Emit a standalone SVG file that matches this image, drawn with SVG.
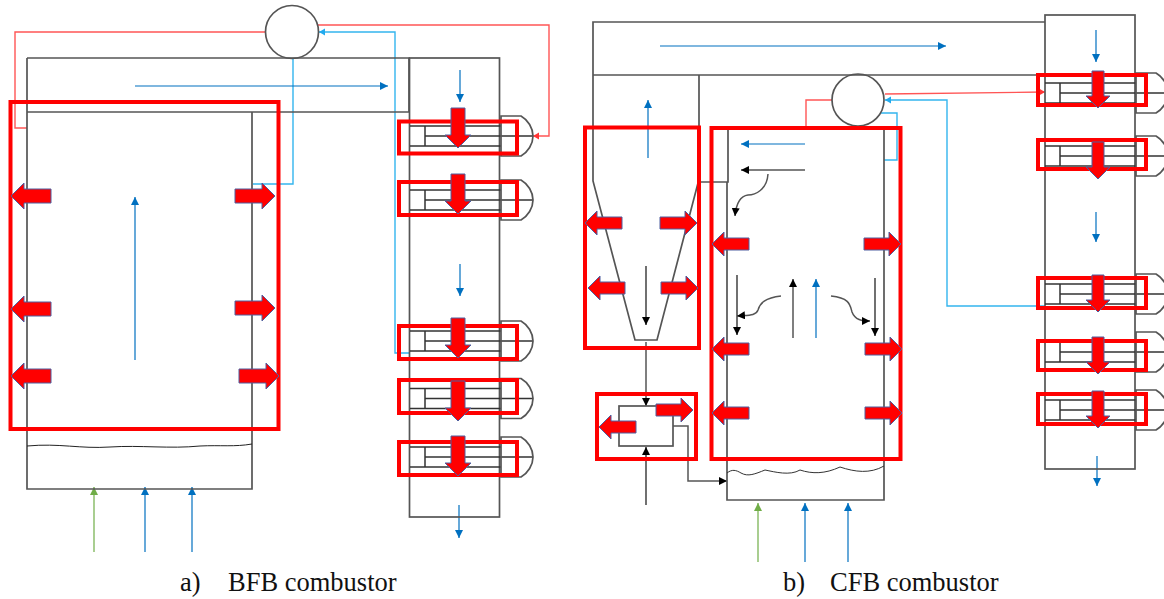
<svg xmlns="http://www.w3.org/2000/svg" width="1164" height="599" viewBox="0 0 1164 599">
<style>
.w{fill:none;stroke:#555;stroke-width:1.7}
.d{fill:none;stroke:#333;stroke-width:1.5}
.k{fill:none;stroke:#111;stroke-width:1.2;marker-end:url(#mk)}
.kg{fill:none;stroke:#555;stroke-width:1.5;marker-end:url(#mk)}
.b{fill:none;stroke:#0070c0;stroke-width:1.2;marker-end:url(#mb)}
.lb{fill:none;stroke:#33b5ee;stroke-width:1.4}
.lba{fill:none;stroke:#33b5ee;stroke-width:1.4;marker-end:url(#ml)}
.r{fill:none;stroke:#f55;stroke-width:1.4}
.ra{fill:none;stroke:#f55;stroke-width:1.4;marker-end:url(#mr)}
.g{fill:none;stroke:#70ad47;stroke-width:1.2;marker-end:url(#mg)}
.box{fill:none;stroke:#f00;stroke-width:4}
.ba{fill:#f00;stroke:#4f5f9f;stroke-width:1}
text{font-family:"Liberation Serif","Times New Roman",serif;font-size:26.500px;fill:#111}
</style>
<defs>
<marker id="mk" markerUnits="userSpaceOnUse" markerWidth="9" markerHeight="9" refX="8" refY="4" orient="auto"><path d="M0 0L8 4L0 8Z" fill="#000"/></marker>
<marker id="mb" markerUnits="userSpaceOnUse" markerWidth="9" markerHeight="9" refX="8" refY="4" orient="auto"><path d="M0 0L8 4L0 8Z" fill="#0070c0"/></marker>
<marker id="ml" markerUnits="userSpaceOnUse" markerWidth="9" markerHeight="9" refX="6" refY="3.500" orient="auto"><path d="M0 0L6 3.500L0 7Z" fill="#22aaee"/></marker>
<marker id="mr" markerUnits="userSpaceOnUse" markerWidth="9" markerHeight="9" refX="6" refY="3.500" orient="auto"><path d="M0 0L6 3.500L0 7Z" fill="#f33"/></marker>
<marker id="mg" markerUnits="userSpaceOnUse" markerWidth="9" markerHeight="9" refX="8" refY="4" orient="auto"><path d="M0 0L8 4L0 8Z" fill="#70ad47"/></marker>
<path id="al" class="ba" d="M0 0L13-13V-7H40V7H13V13Z"/>
<path id="as" class="ba" d="M0 0L12-12V-6H37V6H12V12Z"/>
<g id="hx">
<path class="d" d="M0-10H91M0 10H91M15-10V10M15 0H123"/>
<path class="w" d="M91-20H111C118-16 123-8 123 0C123 8 118 16 111 20H91Z"/>
</g>
</defs>

<g id="connectors">
<path class="r" d="M266 32H15V128H27"/>
<path class="ra" d="M318 25H549V136H533"/>
<path class="lba" d="M409 353H395V32H319"/>
<path class="lb" d="M293 58V184H253"/>
<path class="b" d="M135 86H388"/>
<path class="b" d="M135 360V197"/>
<path class="g" d="M94 552V487"/>
<path class="b" d="M145 552V487"/>
<path class="b" d="M192 552V487"/>
<path class="b" d="M460 70V102"/>
<path class="b" d="M460 264V296"/>
<path class="b" d="M459 505V538"/>

<path class="b" d="M660 46H946"/>
<path class="r" d="M832 100H806V127"/>
<path class="ra" d="M885 94L1045 92"/>
<path class="lba" d="M1045 306H947V100H885"/>
<path class="lb" d="M881 113H897V160H884"/>
<path class="b" d="M648 158V100"/>
<path class="k" d="M646 266V325"/>
<path class="kg" d="M646 342V406"/>
<path class="k" d="M646 505V447"/>
<path class="kg" d="M673 426H688V481H727"/>
<path class="b" d="M805 144H741"/>
<path class="kg" d="M805 170H741"/>
<path class="kg" d="M768 174C767 190 755 195 748 195C740 196 736 205 735 216"/>
<path class="k" d="M737 275V335"/>
<path class="kg" d="M781 296C765 298 760 303 758 310C756 316 748 315 737 316"/>
<path class="kg" d="M793 338V279"/>
<path class="b" d="M816 338V279"/>
<path class="kg" d="M831 296C850 298 850 305 852 312C855 320 862 321 870 321"/>
<path class="k" d="M875 278V336"/>
<path class="g" d="M758 562V503"/>
<path class="b" d="M805 562V503"/>
<path class="b" d="M848 562V503"/>
<path class="b" d="M1096 30V62"/>
<path class="b" d="M1096 212V242"/>
<path class="b" d="M1097 456V486"/>
</g>

<g id="bfb-furnace">
<path class="w" d="M27 58H409V112H27M27 58V489H252V112"/>
<path d="M27 446C60 443 80 449 110 447C140 445 170 449 200 446C220 445 235 447 252 444" fill="none" stroke="#222" stroke-width="1"/>
</g>
<g id="bfb-fan"><circle class="w" cx="292" cy="32" r="26.500" fill="#fff"/></g>
<g id="bfb-backpass">
<rect class="w" x="409.500" y="58" width="90" height="459"/>
<use href="#hx" x="410" y="136"/>
<use href="#hx" x="410" y="200"/>
<use href="#hx" x="410" y="341"/>
<use href="#hx" x="410" y="398.500"/>
<use href="#hx" x="410" y="457"/>
</g>

<g id="cfb-duct">
<path class="w" d="M593 75V22H1045M593 75H1045"/>
</g>
<g id="cfb-cyclone">
<path class="w" d="M593 75V181L635 340H657L698 183M699 75V182H728V127"/>
</g>
<g id="cfb-seal"><rect class="w" x="619" y="406" width="54" height="40"/></g>
<g id="cfb-furnace">
<path class="w" d="M727 182V500H884V127H728"/>
<path d="M727 473C732 469 736 470 741 473C748 477 755 474 765 470C775 472 790 476 800 470C812 474 825 474 840 467C855 472 870 474 884 466" fill="none" stroke="#333" stroke-width="1"/>
</g>
<g id="cfb-fan"><circle class="w" cx="858" cy="100" r="26" fill="#fff"/></g>
<g id="cfb-backpass">
<rect class="w" x="1045" y="15" width="90" height="454"/>
<use href="#hx" x="1045" y="93"/>
<use href="#hx" x="1045" y="156"/>
<use href="#hx" x="1045" y="294"/>
<use href="#hx" x="1045" y="352"/>
<use href="#hx" x="1045" y="410"/>
</g>

<g id="red-boxes">
<rect class="box" x="10.500" y="102" width="268" height="327"/>
<rect class="box" x="399" y="121.500" width="118" height="32"/>
<rect class="box" x="399" y="182" width="118" height="33"/>
<rect class="box" x="399" y="326" width="118" height="33"/>
<rect class="box" x="399" y="380" width="118" height="33"/>
<rect class="box" x="399" y="442" width="118" height="33"/>
<rect class="box" x="585" y="127.500" width="114" height="220.500"/>
<rect class="box" x="597" y="394" width="99" height="65"/>
<rect class="box" x="711.500" y="128" width="189" height="331"/>
<rect class="box" x="1038" y="75" width="108" height="30"/>
<rect class="box" x="1038" y="140" width="108" height="29"/>
<rect class="box" x="1038" y="278" width="108" height="30"/>
<rect class="box" x="1038" y="341" width="108" height="29"/>
<rect class="box" x="1038" y="394" width="108" height="30"/>
</g>

<g id="heat-arrows">
<use href="#al" transform="translate(11 196)"/>
<use href="#al" transform="translate(11 309)"/>
<use href="#al" transform="translate(11 376)"/>
<use href="#al" transform="translate(275 196) scale(-1 1)"/>
<use href="#al" transform="translate(275 308) scale(-1 1)"/>
<use href="#al" transform="translate(279 376) scale(-1 1)"/>
<use href="#al" transform="translate(458 148) rotate(-90)"/>
<use href="#al" transform="translate(458 214) rotate(-90)"/>
<use href="#al" transform="translate(458 358) rotate(-90)"/>
<use href="#al" transform="translate(458 421) rotate(-90)"/>
<use href="#al" transform="translate(458 476) rotate(-90)"/>
<use href="#as" transform="translate(585 223)"/>
<use href="#as" transform="translate(588 288)"/>
<use href="#as" transform="translate(697 223) scale(-1 1)"/>
<use href="#as" transform="translate(698 288) scale(-1 1)"/>
<use href="#as" transform="translate(599 427)"/>
<use href="#as" transform="translate(693 410) scale(-1 1)"/>
<use href="#as" transform="translate(712 244)"/>
<use href="#as" transform="translate(712 349)"/>
<use href="#as" transform="translate(712 413)"/>
<use href="#as" transform="translate(901 244) scale(-1 1)"/>
<use href="#as" transform="translate(902 349) scale(-1 1)"/>
<use href="#as" transform="translate(902 413) scale(-1 1)"/>
<use href="#as" transform="translate(1098 108) rotate(-90)"/>
<use href="#as" transform="translate(1098 179) rotate(-90)"/>
<use href="#as" transform="translate(1098 312) rotate(-90)"/>
<use href="#as" transform="translate(1098 374) rotate(-90)"/>
<use href="#as" transform="translate(1098 428) rotate(-90)"/>
</g>

<g id="captions">
<text x="180" y="591">a)</text><text x="228" y="591">BFB combustor</text>
<text x="783" y="591">b)</text><text x="830" y="591">CFB combustor</text>
</g>
</svg>
